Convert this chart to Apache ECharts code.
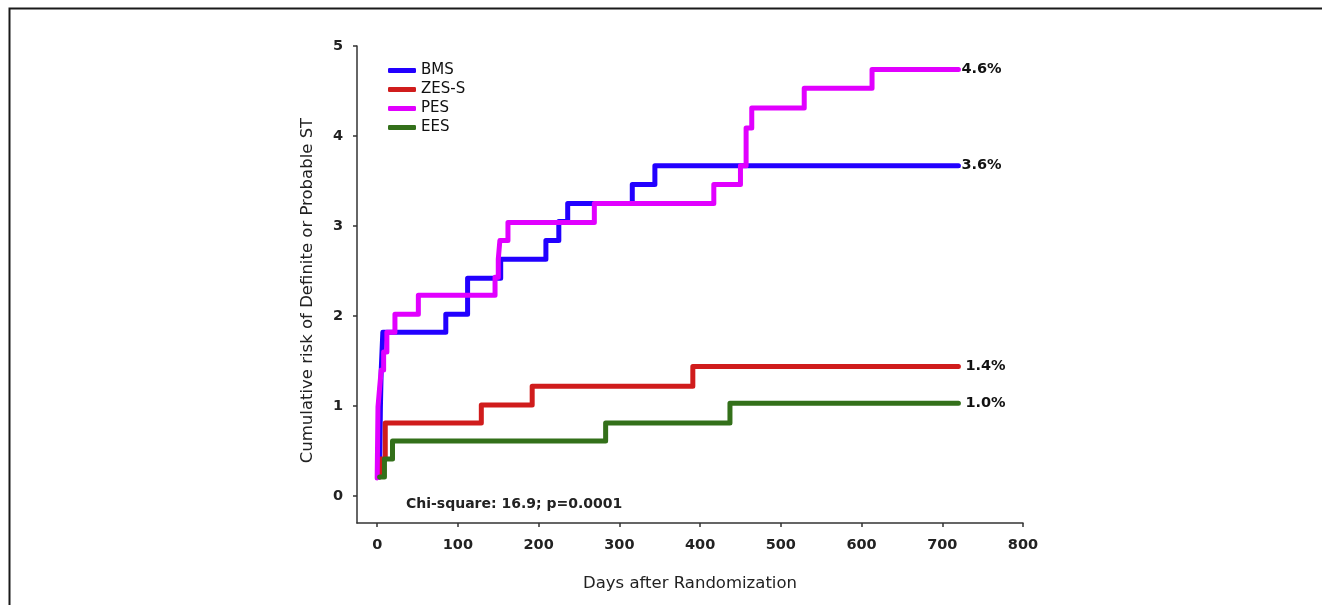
<!DOCTYPE html>
<html>
<head>
<meta charset="utf-8">
<title>Cumulative risk of stent thrombosis</title>
<script src="https://cdn.jsdelivr.net/npm/echarts@6/dist/echarts.min.js"></script>
<style>
  html, body { margin: 0; padding: 0; background: #fff; }
  #chart { width: 1322px; height: 605px; }
</style>
</head>
<body>
<div id="chart"></div>
<script>
// group names, in drawing order
const groups = ['BMS', 'ZES-S', 'PES', 'EES']
const colors = ['#2200ff', '#d01c1c', '#e100ff', '#33701a']
const endLabels = ['3.6%', '1.4%', '4.6%', '1.0%']

// event days and cumulative risk (%)
const bmsDays = [3, 3.5, 4, 4.5, 5, 6, 7, 85, 112, 153, 209, 225, 236, 316, 344, 720]
const bmsRisk = [0.21, 0.62, 0.99, 1.2, 1.4, 1.61, 1.82, 2.02, 2.42, 2.63, 2.84, 3.05, 3.25, 3.46, 3.67, 3.67]

const zesDays = [3, 4, 10, 129, 192, 391, 720]
const zesRisk = [0.21, 0.41, 0.81, 1.01, 1.22, 1.44, 1.44]

const pesDays = [0, 1, 3, 5, 8, 12, 22, 51, 146, 150, 152, 162, 269, 417, 450, 457, 464, 529, 613, 720]
const pesRisk = [0.2, 0.99, 1.2, 1.4, 1.6, 1.82, 2.02, 2.23, 2.43, 2.63, 2.84, 3.04, 3.25, 3.46, 3.67, 4.09, 4.31, 4.53, 4.74, 4.74]

const eesDays = [3, 9, 19, 283, 437, 720]
const eesRisk = [0.21, 0.41, 0.61, 0.81, 1.03, 1.03]

// axis ticks
const xTicks = [0, 100, 200, 300, 400, 500, 600, 700, 800]
const yTicks = [0, 1, 2, 3, 4, 5]

const FONT = '"DejaVu Sans", Verdana, sans-serif'

function pairs(days, risk) {
  return days.map((d, i) => [d, risk[i]])
}

const curves = [
  pairs(bmsDays, bmsRisk),
  pairs(zesDays, zesRisk),
  pairs(pesDays, pesRisk),
  pairs(eesDays, eesRisk),
]
const labelGap = [3, 7, 3, 7]

const chart = echarts.init(document.getElementById('chart'))

chart.setOption({
  backgroundColor: '#fff',
  animation: false,
  textStyle: { fontFamily: FONT },
  grid: {
    left: 357,
    right: 299,
    top: 46,
    bottom: 82,
    containLabel: false,
    outerBoundsMode: 'none',
  },
  legend: {
    data: groups,
    orient: 'vertical',
    left: 383,
    top: 58,
    icon: 'roundRect',
    itemWidth: 28,
    itemHeight: 5,
    itemGap: 4,
    textStyle: { fontSize: 15, color: '#111', fontFamily: FONT },
  },
  xAxis: {
    type: 'value',
    min: -25,
    max: 800,
    name: 'Days after Randomization',
    nameLocation: 'middle',
    nameGap: 52,
    nameTextStyle: { fontSize: 16.5, color: '#222', fontFamily: FONT },
    splitLine: { show: false },
    axisLine: { onZero: false, lineStyle: { color: '#333', width: 1.5 } },
    axisTick: { customValues: xTicks, length: 4, lineStyle: { color: '#333', width: 1.5 } },
    axisLabel: {
      customValues: xTicks,
      margin: 15,
      fontSize: 14.5,
      fontWeight: 'bold',
      color: '#222',
      fontFamily: FONT,
    },
  },
  yAxis: {
    type: 'value',
    min: -0.3,
    max: 5,
    name: 'Cumulative risk of Definite or Probable ST',
    nameLocation: 'middle',
    nameGap: 41,
    nameTextStyle: { fontSize: 16.5, color: '#222', fontFamily: FONT, padding: [0, 12, 0, 0] },
    splitLine: { show: false },
    axisLine: { show: true, onZero: false, lineStyle: { color: '#333', width: 1.5 } },
    axisTick: { show: true, customValues: yTicks, length: 4, lineStyle: { color: '#333', width: 1.5 } },
    axisLabel: {
      customValues: yTicks,
      margin: 14,
      fontSize: 14.5,
      fontWeight: 'bold',
      color: '#222',
      fontFamily: FONT,
    },
  },
  series: groups.map((name, i) => ({
    name: name,
    type: 'line',
    step: 'end',
    data: curves[i],
    symbol: 'none',
    color: colors[i],
    lineStyle: { width: 5, color: colors[i], join: 'round', cap: 'round' },
    endLabel: {
      show: true,
      formatter: endLabels[i],
      distance: labelGap[i],
      fontSize: 14.5,
      fontWeight: 'bold',
      color: '#111',
      fontFamily: FONT,
    },
  })),
  graphic: [
    {
      type: 'rect',
      shape: { x: 9.5, y: 8.5, width: 2000, height: 2000 },
      style: { fill: 'none', stroke: '#1a1a1a', lineWidth: 2 },
      silent: true,
    },
    {
      type: 'text',
      left: 406,
      top: 497,
      style: {
        text: 'Chi-square: 16.9; p=0.0001',
        font: 'bold 14px ' + FONT,
        fill: '#222',
      },
    },
  ],
})
</script>
</body>
</html>
